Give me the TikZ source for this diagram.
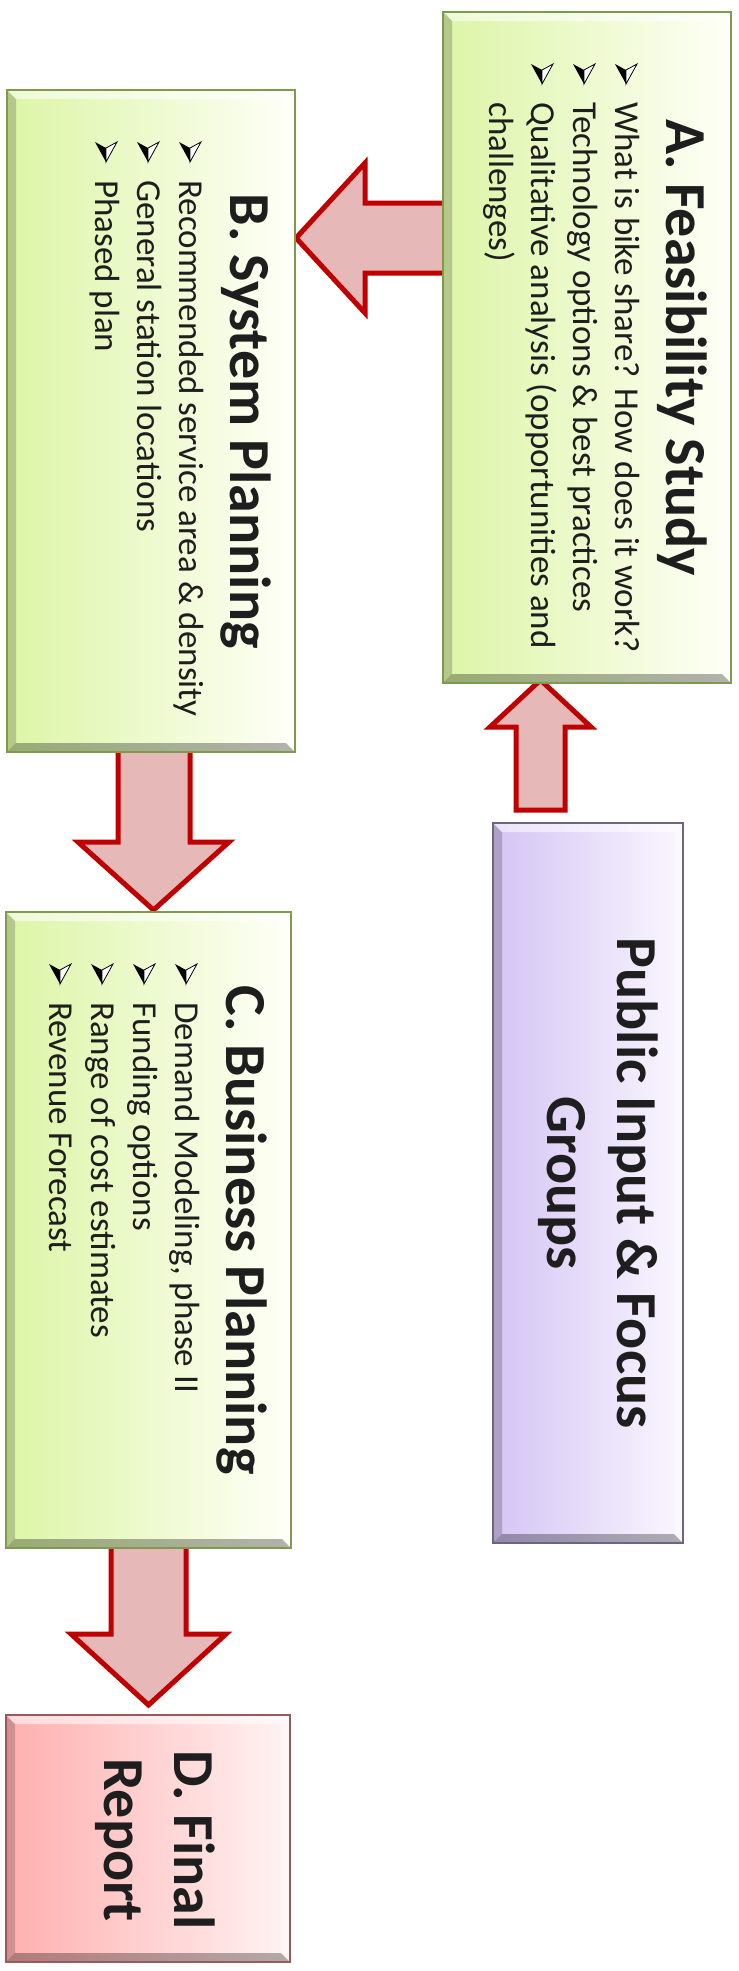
\documentclass[tikz,border=0pt]{standalone}
\usepackage{fontspec}
\setmainfont{Carlito}
\usetikzlibrary{calc}
\definecolor{arrowred}{HTML}{C00000}
\definecolor{arrowfill}{HTML}{E6B9B8}
\definecolor{greenL}{HTML}{DCF5A6}
\definecolor{greenR}{HTML}{FFFFF8}
\definecolor{greenB}{HTML}{7E9A4C}
\definecolor{pinkL}{HTML}{FFAFAF}
\definecolor{pinkR}{HTML}{FFF3F3}
\definecolor{pinkB}{HTML}{9A5A5A}
\definecolor{violL}{HTML}{D4C4F4}
\definecolor{violR}{HTML}{FAF7FF}
\definecolor{violB}{HTML}{6E6480}
\definecolor{txt}{HTML}{1E1E1E}
\tikzset{
  bevel/.style={path picture={
    \coordinate (pnw) at (path picture bounding box.north west);
    \coordinate (pse) at (path picture bounding box.south east);
    \coordinate (pne) at (pnw -| pse);
    \coordinate (psw) at (pnw |- pse);
    \fill[white,opacity=.55] (pnw) -- (pne) -- ($(pne)+(-9pt,-9pt)$) -- ($(pnw)+(9pt,-9pt)$) -- cycle;
    \fill[white,opacity=.35] (pne) -- (pse) -- ($(pse)+(-9pt,9pt)$) -- ($(pne)+(-9pt,-9pt)$) -- cycle;
    \fill[black,opacity=.18] (pnw) -- (psw) -- ($(psw)+(9pt,9pt)$) -- ($(pnw)+(9pt,-9pt)$) -- cycle;
    \fill[black,opacity=.30] (psw) -- (pse) -- ($(pse)+(-9pt,9pt)$) -- ($(psw)+(9pt,9pt)$) -- cycle;
  }},
  gbox/.style={rectangle, inner sep=0pt, draw=greenB, line width=1.5pt, left color=greenL, right color=greenR, bevel},
  pbox/.style={rectangle, inner sep=0pt, draw=pinkB, line width=1.5pt, left color=pinkL, right color=pinkR, bevel},
  vbox/.style={rectangle, inner sep=0pt, draw=violB, line width=1.5pt, left color=violL, right color=violR, bevel},
  ttl/.style={rotate=-90, anchor=base, inner sep=0pt, text=txt, font=\fontsize{58}{70}\selectfont\bfseries},
  itm/.style={rotate=-90, anchor=base west, inner sep=0pt, text=txt, font=\fontsize{35}{42}\selectfont},
  barrow/.style={draw=arrowred, fill=arrowfill, line width=5pt, line join=miter},
  bul/.pic={
    \fill[black] (11,6) -- (0,0) -- (11,20) -- cycle;
    \filldraw[fill=white, draw=black, line width=.8pt] (11,6) -- (22,0) -- (11,20) -- cycle;
  }
}
\begin{document}
\begin{tikzpicture}[x=1pt,y=-1pt]
\useasboundingbox[fill=white] (0,0) rectangle (739,1971);
% block arrows (drawn first, boxes cover their ends)
\coordinate (abtip) at (296,238);
\draw[barrow] (452,203) -- (365,203) -- (365,163) -- (abtip) -- (365,313) -- (365,273) -- (452,273) -- cycle;
\coordinate (patip) at (540.5,680);
\draw[barrow] (516,810) -- (516,727) -- (490,727) -- (patip) -- (591,727) -- (565,727) -- (565,810) -- cycle;
\coordinate (bctip) at (153.5,910);
\draw[barrow] (118,745) -- (118,842) -- (78,842) -- (bctip) -- (229,842) -- (190,842) -- (190,745) -- cycle;
\coordinate (cdtip) at (148.5,1705);
\draw[barrow] (111,1540) -- (111,1634) -- (71,1634) -- (cdtip) -- (226,1634) -- (186,1634) -- (186,1540) -- cycle;
% boxes
\node[gbox, minimum width=288pt, minimum height=671pt] (A) at (587,347.5) {};
\node[gbox, minimum width=288pt, minimum height=662pt] (B) at (151,421) {};
\node[gbox, minimum width=285pt, minimum height=636pt] (C) at (148.5,1230) {};
\node[pbox, minimum width=284pt, minimum height=247pt] (D) at (148,1838.5) {};
\node[vbox, minimum width=190pt, minimum height=720pt] (P) at (588,1183) {};
% A text
\node[ttl] (tA) at (666,347.5) {A. Feasibility Study};
\pic at (615,64) {bul};
\pic at (573,64) {bul};
\pic at (531,64) {bul};
\node[itm] (a1) at (615,102) {What is bike share? How does it work?};
\node[itm] (a2) at (573,102) {Technology options \& best practices};
\node[itm] (a3) at (531,102) {Qualitative analysis (opportunities and};
\node[itm] (a4) at (489,102) {challenges)};
% B text
\node[ttl] (tB) at (230,421) {B. System Planning};
\pic at (179,142) {bul};
\pic at (137,142) {bul};
\pic at (95,142) {bul};
\node[itm] (b1) at (179,180) {Recommended service area \& density};
\node[itm] (b2) at (137,180) {General station locations};
\node[itm] (b3) at (95,180) {Phased plan};
% C text
\node[ttl] (tC) at (226,1230) {C. Business Planning};
\pic at (175,964) {bul};
\pic at (133,964) {bul};
\pic at (91,964) {bul};
\pic at (49,964) {bul};
\node[itm] (c1) at (175,1002) {Demand Modeling, phase II};
\node[itm] (c2) at (133,1002) {Funding options};
\node[itm] (c3) at (91,1002) {Range of cost estimates};
\node[itm] (c4) at (49,1002) {Revenue Forecast};
% D text
\node[ttl] (tD1) at (174,1840) {D. Final};
\node[ttl] (tD2) at (104,1840) {Report};
% Public text
\node[ttl] (tP1) at (617,1183) {Public Input \& Focus};
\node[ttl] (tP2) at (547,1183) {Groups};
\end{tikzpicture}
\end{document}
